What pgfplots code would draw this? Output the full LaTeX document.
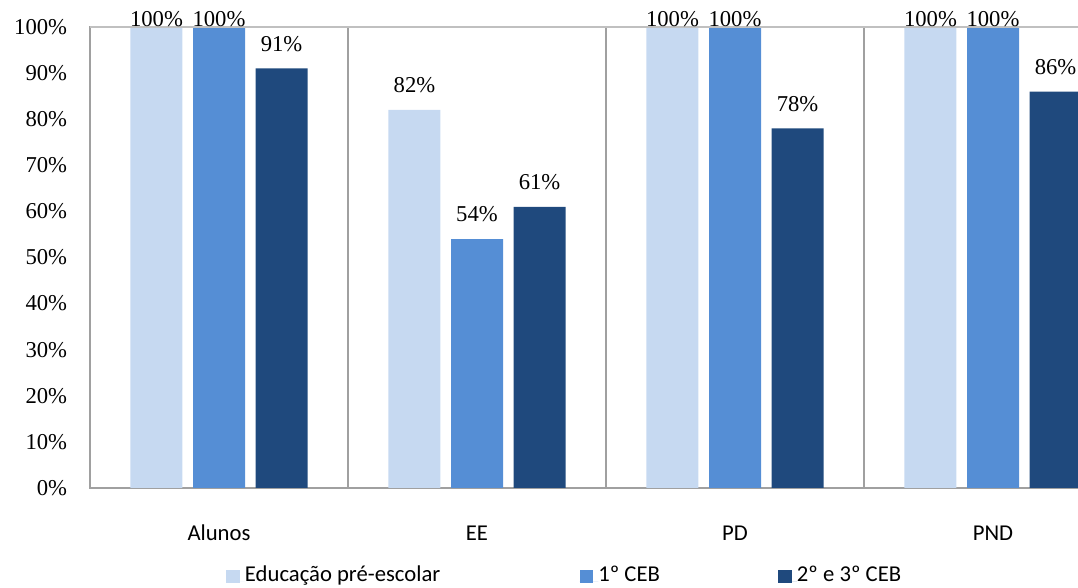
\documentclass[border=0pt]{standalone}
\usepackage{pgfplots}
\usepackage{pgfplotstable}
\pgfplotsset{compat=1.18}
\usepackage{fontspec}
\setmainfont{Carlito}
\newfontfamily\numfont{Liberation Serif}

\definecolor{preesc}{HTML}{C6D9F1}
\definecolor{cebA}{HTML}{558ED5}
\definecolor{cebB}{HTML}{1F497D}
\definecolor{axisgray}{HTML}{A0A0A0}
\definecolor{topgray}{HTML}{C0C0C0}

% columns: category index, percentage, lift of the value label (pt)
\pgfplotstableread{
x val off
0 100 0
1 82 13
2 100 0
3 100 0
}\preescolar
\pgfplotstableread{
x val off
0 100 0
1 54 13
2 100 0
3 100 0
}\cebum
\pgfplotstableread{
x val off
0 91 13
1 61 13
2 78 13
3 86 13
}\cebdois

\newcommand\lbl{\fontsize{17}{20}\selectfont}
\newcommand\num{\numfont\fontsize{17}{20}\selectfont}

\begin{document}
\begin{tikzpicture}
\useasboundingbox (-67.5pt,-75pt) rectangle (741pt,366pt);
\clip (-67.5pt,-75pt) rectangle (741pt,366pt);
\begin{axis}[
  scale only axis,
  width=774pt, height=345.75pt,
  xmin=-0.5, xmax=3.5, ymin=0, ymax=100,
  clip=false,
  ybar=7.9pt, bar width=39pt,
  axis line style={axisgray, line width=0.8pt},
  /pgf/number format/assume math mode=true,
  xtick={0,1,2,3},
  xticklabels={Alunos,EE,PD,PND},
  major x tick style={draw=none},
  xticklabel style={font=\lbl, anchor=base, yshift=-35pt},
  extra x ticks={-0.5,0.5,1.5,2.5},
  extra x tick labels={},
  extra x tick style={grid=major, major grid style={axisgray, line width=0.8pt},
    tick style={axisgray, line width=0.8pt}, major tick length=13.5pt, tick align=center},
  ytick={0,10,...,100},
  yticklabel={\pgfmathprintnumber{\tick}\%},
  yticklabel style={font=\num, inner sep=0pt, xshift=-17pt},
  ytick style={draw=none},
  nodes near coords={\pgfmathprintnumber{\pgfplotspointmeta}\%},
  nodes near coords style={font=\num, anchor=base, yshift=\off pt, inner sep=0pt},
  visualization depends on={\thisrow{off} \as \off},
  legend style={at={(0.1318,-0.1887)}, anchor=west, draw=none, fill=none,
    inner sep=0pt, column sep=0pt, font=\lbl,
    nodes={inner sep=0pt, anchor=base west}},
  legend columns=3,
  legend image code/.code={%
    \fill[#1,draw=none] (0pt,-1pt) rectangle (10pt,9pt);
    \path (0pt,0pt) -- (14pt,0pt);},
]
\addplot[fill=preesc, draw=none] table[x=x, y=val] {\preescolar};
\addplot[fill=cebA, draw=none] table[x=x, y=val] {\cebum};
\addplot[fill=cebB, draw=none] table[x=x, y=val] {\cebdois};
\draw[topgray, line width=0.8pt] (axis cs:-0.5,100) -- (axis cs:3.5,100);
\legend{\makebox[251pt][l]{Educação pré-escolar},
        \makebox[135pt][l]{1º CEB},
        2º e 3º CEB}
\end{axis}
\end{tikzpicture}
\end{document}
